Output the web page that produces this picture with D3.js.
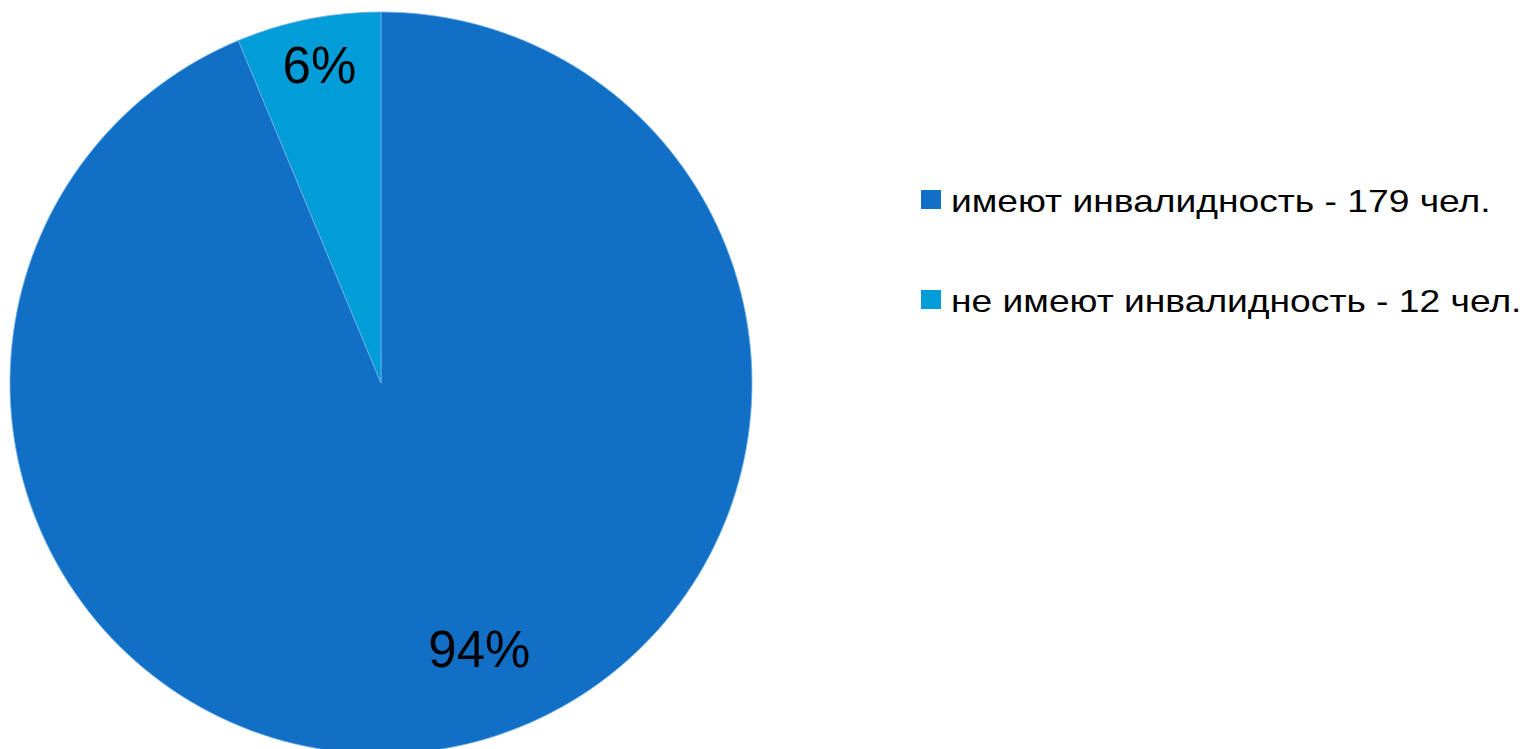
<!DOCTYPE html>
<html><head><meta charset="utf-8">
<script src="https://cdn.jsdelivr.net/npm/d3@7"></script>
<style>html,body{margin:0;padding:0;background:#fff;}svg{display:block;}</style>
</head><body>
<svg id="c" width="1523" height="749"></svg>
<script>
const categories = ["имеют инвалидность - 179 чел.", "не имеют инвалидность - 12 чел."];
const values = [179, 12];
const percentLabels = ["94%", "6%"];
const colors = ["#116FC6", "#009DD9"];

const svg = d3.select("#c");
const cx = 381, cy = 383, R = 371;
const pie = d3.pie().sort(null).value(d => d)(values);
const arc = d3.arc().innerRadius(0).outerRadius(R);
const g = svg.append("g").attr("transform", `translate(${cx},${cy})`);
g.selectAll("path").data(pie).join("path")
  .attr("d", arc).attr("fill", (d,i) => colors[i])
  .attr("stroke", "#6fb0e6").attr("stroke-width", 0.8);

// label placement (Excel best-fit style)
const labelPos = [{dAng: -0.15, r: 283}, {dAng: 0.0, r: 324}];
g.selectAll("text.lbl").data(pie).join("text").attr("class","lbl")
  .each(function(d,i){
    const a = (d.startAngle + d.endAngle)/2 + labelPos[i].dAng;
    const r = labelPos[i].r;
    d3.select(this).attr("x", Math.sin(a)*r + (i===0?2:2)).attr("y", -Math.cos(a)*r + 18);
  })
  .attr("text-anchor","middle")
  .attr("font-family","'Liberation Sans', Arial, sans-serif")
  .attr("font-size", 51).attr("fill","#000")
  .text((d,i) => percentLabels[i]);

const leg = svg.append("g").attr("transform","translate(921,190)");
const items = leg.selectAll("g").data(categories).join("g")
  .attr("transform", (d,i) => `translate(0,${i*100})`);
items.append("rect").attr("width",20).attr("height",19).attr("fill",(d,i)=>colors[i]);
items.append("text").attr("transform","translate(30,21.5) scale(1.2,1)")
  .attr("font-family","'Liberation Sans', Arial, sans-serif")
  .attr("font-size",31).attr("fill","#000").text(d=>d);
</script>
</body></html>
